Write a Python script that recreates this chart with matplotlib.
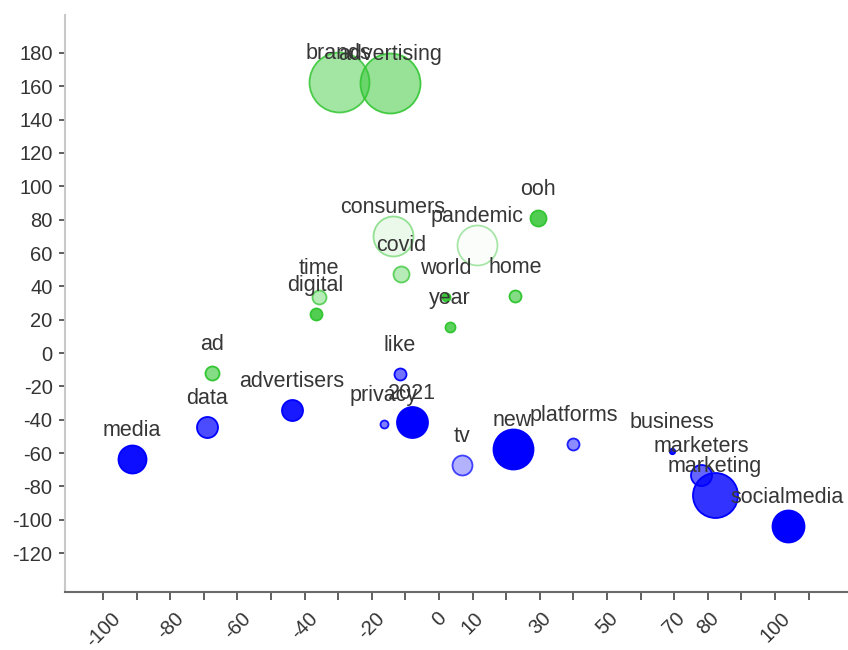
import matplotlib
matplotlib.use("Agg")
import matplotlib.pyplot as plt
from matplotlib.colors import to_rgba

plt.rcParams['font.family'] = ['Liberation Sans', 'DejaVu Sans']

words = ['brands', 'advertising', 'consumers', 'pandemic', 'ooh', 'covid', 'world',
         'year', 'home', 'time', 'digital', 'ad',
         'media', 'data', 'advertisers', 'like', 'privacy', '2021', 'tv', 'new',
         'platforms', 'business', 'marketers', 'marketing', 'socialmedia']
xs = [-29.8, -14.6, -13.8, 11.2, 29.4, -11.4, 2.0,
      3.3, 22.6, -35.7, -36.7, -67.5,
      -91.5, -69.1, -43.8, -11.6, -16.4, -8.1, 6.8, 21.9,
      40.0, 69.2, 78.0, 82.1, 103.7]
ys = [162.6, 162.0, 70.2, 64.8, 81.2, 47.4, 33.8,
      15.6, 34.4, 33.8, 23.4, -12.2,
      -63.8, -44.6, -34.2, -12.6, -42.6, -41.2, -67.2, -57.6,
      -54.8, -58.8, -73.2, -85.2, -103.8]
# bubble radius (px)
size = [30, 30, 20, 20, 8, 8, 4,
        5, 6, 7, 6, 7,
        14, 10.5, 10.5, 6, 4, 15.5, 10, 20,
        6, 2.7, 10.5, 22.5, 16]
group = ['g'] * 12 + ['b'] * 13
opacity = [0.45, 0.5, 0.1, 0.02, 0.85, 0.35, 0.95,
           0.8, 0.6, 0.35, 0.85, 0.6,
           0.95, 0.7, 0.9, 0.55, 0.5, 1.0, 0.3, 1.0,
           0.45, 0.9, 0.6, 0.8, 1.0]

xtick_vals = list(range(-100, 111, 10))
xtick_labels = ['-100', '', '-80', '', '-60', '', '-40', '', '-20', '', '0', '10', '',
                '30', '', '50', '', '70', '80', '', '100', '']
ytick_vals = list(range(-120, 181, 20))

colors = {'g': '#33c633', 'b': '#0000ff'}

fig = plt.figure(figsize=(8.48, 6.5), dpi=100)
ax = fig.add_axes([0.0767, 0.089, 0.9233, 0.888])

for w, x, y, r, g, a in zip(words, xs, ys, size, group, opacity):
    c = colors[g]
    s = (2 * r * 0.72) ** 2
    ax.scatter([x], [y], s=s, facecolor=to_rgba(c, a),
               edgecolor=to_rgba(c, min(1.0, a + 0.4)), linewidth=1.3, zorder=2)

for w, x, y in zip(words, xs, ys):
    ax.annotate(w, (x, y), xytext=(0, 20.5), textcoords='offset points',
                ha='center', va='center', fontsize=15.5, color='#363636', zorder=3)

ax.set_xlim(-111.3, 121.7)
ax.set_ylim(-143.4, 202.8)
ax.set_xticks(xtick_vals)
ax.set_xticklabels(xtick_labels, rotation=45, ha='center', fontsize=14.5, color='#333333')
ax.set_yticks(ytick_vals)
ax.set_yticklabels([str(v) for v in ytick_vals], fontsize=14.5, color='#333333')

ax.spines['top'].set_visible(False)
ax.spines['right'].set_visible(False)
ax.spines['left'].set_color('#c8c8c8')
ax.spines['left'].set_linewidth(1.5)
ax.spines['bottom'].set_color('#6a6a6a')
ax.spines['bottom'].set_linewidth(1.5)
ax.tick_params(axis='x', length=6, width=1.2, color='#444444', pad=6)
ax.tick_params(axis='y', length=4, width=1.2, color='#444444', pad=5)

fig.savefig('out.png', dpi=100)
